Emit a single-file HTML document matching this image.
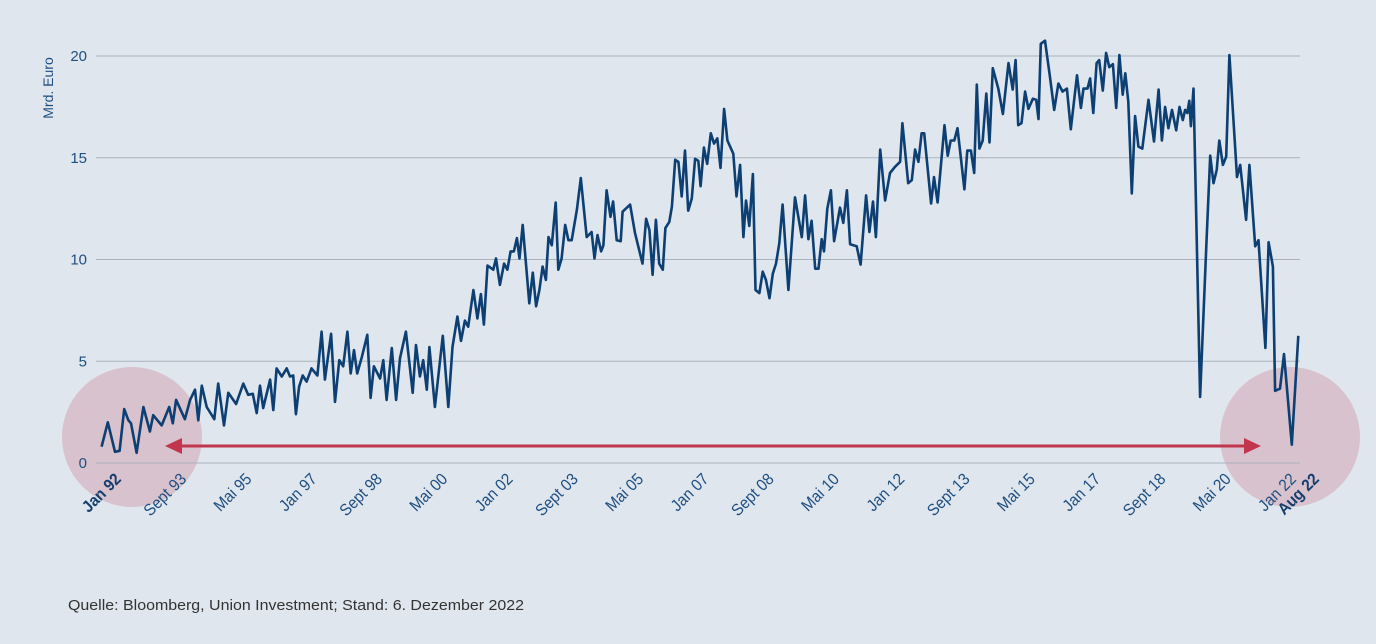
<!DOCTYPE html>
<html><head><meta charset="utf-8">
<style>
html,body{margin:0;padding:0;background:#dfe6ed;}
svg{display:block;font-family:"Liberation Sans",sans-serif;}
</style></head>
<body>
<svg id="chart" width="1376" height="644" viewBox="0 0 1376 644">
<rect x="0" y="0" width="1376" height="644" fill="#dfe6ed"/>
<circle cx="132" cy="437" r="70" fill="#d8c2cd"/>
<circle cx="1290" cy="437" r="70" fill="#d8c2cd"/>
<g id="grid"></g>
<g id="ylabels"></g>
<text transform="translate(53,88) rotate(-90)" text-anchor="middle" font-size="14" fill="#1f4f80">Mrd. Euro</text>
<g>
<line x1="180" y1="446" x2="1246" y2="446" stroke="#c2364d" stroke-width="3"/>
<polygon points="165,446 182,438 182,454" fill="#c2364d"/>
<polygon points="1261,446 1244,438 1244,454" fill="#c2364d"/>
</g>
<path id="line" fill="none" stroke="#0d3f73" stroke-width="2.6" stroke-linejoin="round"/>
<g id="xlabels"></g>
<text x="68" y="610" font-size="15" fill="#333" textLength="456" lengthAdjust="spacingAndGlyphs">Quelle: Bloomberg, Union Investment; Stand: 6. Dezember 2022</text>
</svg>
<script>
const months=[0.5,2.4,4.6,6,7.4,8.7,9.5,11.2,13.3,15.3,16.3,18.9,21.2,22.3,23.3,26,27.6,29.1,30.1,31.2,32.7,35,36.2,38,39.3,41.7,43.9,45.4,46.8,48,49,50,52.1,53.1,54.1,55.7,57.2,58.2,59.2,60,61,62.1,63.3,64.8,66.6,67.9,68.9,70.8,72,73.3,74.5,75.8,76.8,77.8,78.8,80.2,81.9,82.9,83.9,85.8,86.8,87.8,89.4,90.7,91.9,93.7,95.8,96.8,98,99,100.1,100.9,102.6,105,106.7,108,109.5,110.6,111.8,112.8,114.4,115.6,116.7,117.6,118.7,120.5,121.3,122.5,123.8,124.8,125.8,126.8,127.7,128.5,129.5,131.5,132.6,133.6,134.6,135.6,136.6,137.4,138.4,139.6,140.4,141.4,142.5,143.5,144.5,146.1,147.3,149.1,150.6,151.5,152.4,153.5,154.2,155.2,156.4,157.2,158.3,159.5,160.1,162.4,163.9,166.2,167.3,168.3,169.3,170.3,171.3,172.4,173.2,174.4,175.2,176.2,177.2,178.2,179.2,180.2,181.3,182.3,183.3,184,185,186,187.1,188.1,189.1,190.1,191.2,192.2,194,195,196.1,197.1,197.9,198.9,200,200.8,202,203,204,205.1,206.1,207.1,208.1,209.1,210.9,212.9,215,216,217,218,219.1,220.1,221.1,221.8,222.8,223.9,224.9,226.7,227.7,228.8,229.8,231.8,233,234.7,235.7,236.8,237.7,239,240.5,242,243.5,245.1,245.8,247.6,248.7,249.7,250.7,251.7,252.5,254.6,255.5,256.6,258.7,259.7,260.6,261.7,262.7,264.8,265.7,266.8,267.8,268.6,269.4,270.4,271.5,272.5,273.5,275.2,276.6,278.3,279.6,280.5,281.3,282.3,283.4,284.4,285.8,286.8,287.5,288.2,289.5,291,292.3,293.6,294.9,296.2,297.4,299.3,300.5,301.3,302.5,303.3,304.3,305.3,306.1,307.2,308.2,309.2,310.3,311.3,312.3,313.3,314.1,315,316.1,317.1,318.1,319.3,321.2,322.9,324.3,325.3,326.3,327.3,328.4,329.7,330.7,331.7,332.4,333.1,333.7,334.2,335,337,338.9,340.1,341.1,342.1,342.9,344,345,346,348.3,349.3,351.1,352.1,353.9,354.9,357,358,359.3,360,361.5,362.7,365.1,367.1];
const values=[0.8,2.0,0.55,0.6,2.65,2.1,1.95,0.5,2.75,1.55,2.35,1.85,2.75,1.95,3.1,2.15,3.1,3.6,2.1,3.8,2.75,2.15,3.9,1.85,3.45,2.9,3.9,3.35,3.4,2.45,3.8,2.7,4.1,2.6,4.65,4.25,4.65,4.25,4.3,2.4,3.75,4.3,4.0,4.65,4.3,6.45,4.1,6.35,3.0,5.05,4.75,6.45,4.4,5.55,4.4,5.2,6.3,3.2,4.75,4.15,5.05,3.1,5.65,3.1,5.15,6.45,3.45,5.8,4.25,5.05,3.6,5.7,2.75,6.25,2.75,5.7,7.2,6.0,7.0,6.7,8.5,7.1,8.3,6.8,9.7,9.5,10.05,8.75,9.8,9.5,10.4,10.4,11.05,10.05,11.7,7.85,9.35,7.7,8.5,9.65,9.0,11.1,10.7,12.8,9.5,10.05,11.7,10.95,10.95,12.45,14.0,11.1,11.35,10.05,11.2,10.4,10.7,13.4,12.1,12.85,10.95,10.9,12.35,12.7,11.3,9.8,12.0,11.45,9.25,11.95,9.8,9.5,11.55,11.85,12.6,14.9,14.8,13.1,15.35,12.4,13.0,14.95,14.85,13.6,15.5,14.7,16.2,15.7,15.95,14.5,17.4,15.85,15.2,13.1,14.65,11.1,12.9,11.65,14.2,8.5,8.35,9.4,9.0,8.1,9.3,9.8,10.8,12.7,8.5,13.05,11.1,13.15,11.0,11.9,9.55,9.55,11.0,10.4,12.5,13.4,10.9,12.55,11.8,13.4,10.75,10.65,9.75,13.15,11.35,12.85,11.1,15.4,12.9,14.25,14.55,14.8,16.7,13.75,13.9,15.4,14.8,16.2,16.2,12.75,14.05,12.8,16.6,15.1,15.85,15.85,16.45,13.45,15.35,15.35,14.25,18.6,15.45,15.85,18.15,15.75,19.4,18.4,17.15,19.65,18.35,19.8,16.6,16.7,18.25,17.4,17.9,17.85,16.9,20.6,20.75,19.0,17.35,18.65,18.25,18.4,16.4,19.05,17.45,18.4,18.4,18.9,17.2,19.65,19.8,18.3,20.15,19.45,19.6,17.45,20.05,18.1,19.15,17.75,13.25,17.05,15.55,15.45,17.85,15.8,18.35,15.85,17.5,16.45,17.35,16.35,17.5,16.85,17.35,17.2,17.8,16.55,18.4,3.25,10.65,15.1,13.75,14.4,15.85,14.65,15.05,20.05,14.05,14.65,11.95,14.65,10.65,10.95,5.65,10.85,9.65,3.55,3.65,5.35,0.9,6.25];
const yTicks=[0,5,10,15,20];
const xTickMonths=[0,20,40,60,80,100,120,140,160,180,200,220,240,260,280,300,320,340,360,367];
const xTickLabels=["Jan 92","Sept 93","Mai 95","Jan 97","Sept 98","Mai 00","Jan 02","Sept 03","Mai 05","Jan 07","Sept 08","Mai 10","Jan 12","Sept 13","Mai 15","Jan 17","Sept 18","Mai 20","Jan 22","Aug 22"];

const NS="http://www.w3.org/2000/svg";
function xScale(m){return 100+m*(1298-100)/367;}
function yScale(v){return 463-v*(463-56)/20;}

const grid=document.getElementById('grid');
const yl=document.getElementById('ylabels');
yTicks.forEach(t=>{
  const l=document.createElementNS(NS,'line');
  l.setAttribute('x1',96);l.setAttribute('x2',1300);
  l.setAttribute('y1',yScale(t));l.setAttribute('y2',yScale(t));
  l.setAttribute('stroke','#aab3bd');l.setAttribute('stroke-width','1');
  
  
  grid.appendChild(l);
  const tx=document.createElementNS(NS,'text');
  tx.setAttribute('x',87);tx.setAttribute('y',yScale(t)+5);
  tx.setAttribute('text-anchor','end');tx.setAttribute('font-size','15');tx.setAttribute('fill','#1f4f80');
  tx.textContent=t;
  
  
  yl.appendChild(tx);
});

let d='';
months.forEach((m,i)=>{d+=(i?'L':'M')+xScale(m).toFixed(1)+','+yScale(values[i]).toFixed(1);});
document.getElementById('line').setAttribute('d',d);

const xl=document.getElementById('xlabels');
xTickMonths.forEach((m,i)=>{
  const tx=document.createElementNS(NS,'text');
  const x=xScale(m)+22, y=480;
  tx.setAttribute('transform','translate('+x+','+y+') rotate(-45) scale(0.92,1)');
  tx.setAttribute('text-anchor','end');tx.setAttribute('font-size','16.5');tx.setAttribute('fill','#1f4f80');
  if(i===0||i===xTickLabels.length-1){tx.setAttribute('font-weight','bold');tx.setAttribute('fill','#163f6e');}
  tx.textContent=xTickLabels[i];
  
  
  xl.appendChild(tx);
});
</script>
</body></html>
